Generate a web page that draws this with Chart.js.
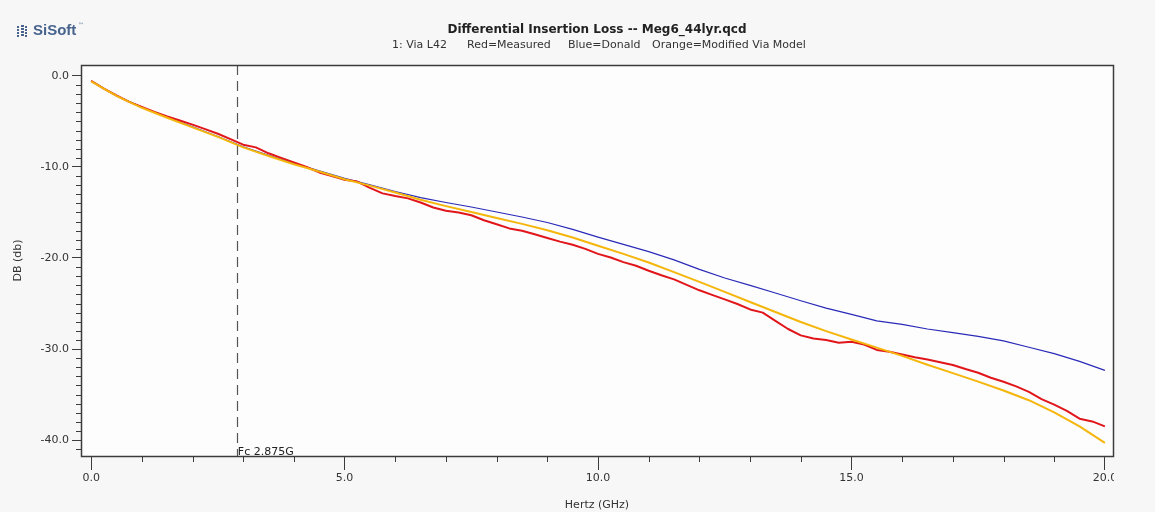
<!DOCTYPE html>
<html>
<head>
<meta charset="utf-8">
<title>Differential Insertion Loss -- Meg6_44lyr.qcd</title>
<script src="https://cdn.jsdelivr.net/npm/chart.js@4.4.0/dist/chart.umd.min.js"></script>
<style>
  html, body { margin: 0; padding: 0; background: #f7f7f7; }
  canvas { display: block; }
</style>
</head>
<body>
<canvas id="lossChart" width="1155" height="512"></canvas>
<script>
// Measured trace, sampled every 0.25 GHz
const measuredGHz = [
  0.00, 0.25, 0.50, 0.75, 1.00, 1.25, 1.50, 1.75, 2.00, 2.25, 2.50, 2.75, 3.00, 3.25, 3.50, 3.75,
  4.00, 4.25, 4.50, 4.75, 5.00, 5.25, 5.50, 5.75, 6.00, 6.25, 6.50, 6.75, 7.00, 7.25, 7.50, 7.75,
  8.00, 8.25, 8.50, 8.75, 9.00, 9.25, 9.50, 9.75, 10.00, 10.25, 10.50, 10.75, 11.00, 11.25, 11.50, 11.75,
  12.00, 12.25, 12.50, 12.75, 13.00, 13.25, 13.50, 13.75, 14.00, 14.25, 14.50, 14.75, 15.00, 15.25, 15.50, 15.75,
  16.00, 16.25, 16.50, 16.75, 17.00, 17.25, 17.50, 17.75, 18.00, 18.25, 18.50, 18.75, 19.00, 19.25, 19.50, 19.75,
  20.00
];
const measuredDb = [
  -0.55, -1.40, -2.15, -2.85, -3.40, -3.95, -4.45, -4.90, -5.35, -5.85, -6.35, -6.95, -7.55, -7.85, -8.50, -9.00,
  -9.50, -10.00, -10.60, -11.00, -11.40, -11.60, -12.30, -12.90, -13.20, -13.45, -13.90, -14.45, -14.80, -15.00, -15.30, -15.85,
  -16.30, -16.75, -17.00, -17.40, -17.80, -18.20, -18.55, -19.00, -19.55, -19.95, -20.45, -20.85, -21.40, -21.90, -22.35, -22.95,
  -23.55, -24.05, -24.55, -25.05, -25.65, -26.00, -26.90, -27.80, -28.50, -28.85, -29.00, -29.30, -29.20, -29.50, -30.10, -30.30,
  -30.60, -30.90, -31.15, -31.45, -31.75, -32.20, -32.60, -33.15, -33.60, -34.10, -34.70, -35.50, -36.10, -36.80, -37.65, -37.95,
  -38.50
];

// Simulated traces, sampled every 0.5 GHz
const modelGHz = [
  0.0, 0.5, 1.0, 1.5, 2.0, 2.5, 3.0, 3.5, 4.0, 4.5, 5.0, 5.5, 6.0, 6.5, 7.0, 7.5, 8.0, 8.5, 9.0, 9.5, 10.0,
  10.5, 11.0, 11.5, 12.0, 12.5, 13.0, 13.5, 14.0, 14.5, 15.0, 15.5, 16.0, 16.5, 17.0, 17.5, 18.0, 18.5, 19.0, 19.5, 20.0
];
const donaldDb = [
  -0.55, -2.15, -3.45, -4.55, -5.60, -6.65, -7.78, -8.72, -9.60, -10.42, -11.25, -11.95, -12.70, -13.37, -13.90, -14.40, -14.95, -15.50, -16.10, -16.85, -17.70,
  -18.50, -19.30, -20.20, -21.25, -22.20, -23.00, -23.85, -24.70, -25.50, -26.20, -26.90, -27.30, -27.80, -28.20, -28.60, -29.10, -29.80, -30.50, -31.35, -32.35
];
const modifiedViaDb = [
  -0.60, -2.20, -3.50, -4.60, -5.65, -6.70, -7.85, -8.80, -9.70, -10.50, -11.35, -12.05, -12.80, -13.60, -14.30, -14.95, -15.60, -16.25, -16.95, -17.75, -18.65,
  -19.55, -20.50, -21.55, -22.62, -23.72, -24.83, -25.93, -27.03, -28.03, -28.95, -29.85, -30.75, -31.72, -32.65, -33.58, -34.55, -35.62, -36.95, -38.50, -40.30
];

// axes
const xMajorTicks = [0, 5, 10, 15, 20];
const yMajorTicks = [0, -10, -20, -30, -40];
const xMinorStep = 1;
const yMinorStep = 1;
const cornerFreqGHz = 2.875;

const FONT = '"DejaVu Sans", Verdana, sans-serif';
const INK = '#3c3c3c';

function toPoints(xs, ys) {
  return xs.map((x, i) => ({ x: x, y: ys[i] }));
}

const decor = {
  id: 'decor',
  beforeDraw(chart) {
    const { ctx, chartArea: a } = chart;
    ctx.save();
    ctx.fillStyle = '#f7f7f7';
    ctx.fillRect(0, 0, chart.width, chart.height);
    ctx.fillStyle = '#fdfdfd';
    ctx.fillRect(a.left, a.top, a.right - a.left, a.bottom - a.top);
    ctx.restore();
    // scale labels are cut off at the right edge of the frame
    ctx.save();
    ctx.beginPath();
    ctx.rect(0, 0, a.right + 1, chart.height);
    ctx.clip();
  },
  beforeDatasetsDraw(chart) {
    const { ctx, chartArea: a, scales } = chart;
    ctx.restore();
    // Fc marker
    const fx = Math.round(scales.x.getPixelForValue(cornerFreqGHz)) + 0.5;
    ctx.save();
    ctx.strokeStyle = '#555';
    ctx.lineWidth = 1.2;
    ctx.setLineDash([10, 6]);
    ctx.beginPath();
    ctx.moveTo(fx, a.top);
    ctx.lineTo(fx, a.bottom);
    ctx.stroke();
    ctx.restore();
  },
  afterDatasetsDraw(chart) {
    const { ctx, chartArea: a, scales } = chart;
    ctx.save();
    ctx.strokeStyle = INK;
    ctx.lineWidth = 1;
    ctx.beginPath();
    for (let v = 0; v <= scales.x.max; v += xMinorStep) {
      if (xMajorTicks.includes(v)) continue;
      const px = Math.round(scales.x.getPixelForValue(v)) + 0.5;
      ctx.moveTo(px, a.bottom);
      ctx.lineTo(px, a.bottom + 6);
    }
    for (let v = 0; v >= scales.y.min; v -= yMinorStep) {
      if (yMajorTicks.includes(v)) continue;
      const py = Math.round(scales.y.getPixelForValue(v)) + 0.5;
      ctx.moveTo(a.left - 5, py);
      ctx.lineTo(a.left, py);
    }
    ctx.stroke();
    // plot frame
    ctx.lineWidth = 1.5;
    ctx.strokeRect(a.left + 0.5, a.top + 0.5, a.right - a.left, a.bottom - a.top);
    ctx.restore();
  },
  afterDraw(chart) {
    const { ctx, chartArea: a, scales } = chart;
    const cx = (a.left + a.right) / 2;
    ctx.save();
    ctx.textBaseline = 'middle';

    // title block
    ctx.fillStyle = '#222';
    ctx.textAlign = 'center';
    ctx.font = 'bold 12px ' + FONT;
    ctx.fillText('Differential Insertion Loss -- Meg6_44lyr.qcd', cx, 30);
    ctx.font = '11px ' + FONT;
    ctx.textAlign = 'left';
    ctx.fillStyle = '#333';
    ctx.fillText('1: Via L42', 392, 45);
    ctx.fillText('Red=Measured', 467, 45);
    ctx.fillText('Blue=Donald', 568, 45);
    ctx.fillText('Orange=Modified Via Model', 652, 45);

    // axis titles
    ctx.textAlign = 'center';
    ctx.fillText('Hertz (GHz)', cx, 505);
    ctx.save();
    ctx.translate(18, (a.top + a.bottom) / 2);
    ctx.rotate(-Math.PI / 2);
    ctx.fillText('DB (db)', 0, 0);
    ctx.restore();

    // Fc label sitting on the x axis
    const fx = scales.x.getPixelForValue(cornerFreqGHz);
    ctx.textAlign = 'left';
    ctx.textBaseline = 'alphabetic';
    ctx.fillStyle = '#222';
    ctx.fillText('Fc ' + cornerFreqGHz + 'G', fx + 1, a.bottom - 1);

    // SiSoft logo
    ctx.fillStyle = '#48648e';
    for (let c = 0; c < 3; c++) {
      for (let r = 0; r < 4; r++) {
        const w = (c === 1) ? 3 : 2;
        ctx.fillRect(17 + c * 4, 25 + r * 3 + (c === 1 ? 0 : 1), w, 2);
      }
    }
    ctx.font = 'bold 15px "Liberation Sans", Arial, sans-serif';
    ctx.textBaseline = 'middle';
    ctx.fillText('SiSoft', 33, 31);
    ctx.font = '6px ' + FONT;
    ctx.fillText('\u2122', 78, 25);
    ctx.restore();
  }
};

const ctx = document.getElementById('lossChart').getContext('2d');
const lossChart = new Chart(ctx, {
  type: 'line',
  data: {
    datasets: [
      {
        label: 'Modified Via Model',
        data: toPoints(modelGHz, modifiedViaDb),
        borderColor: '#f5b60c',
        borderWidth: 2,
        order: 0
      },
      {
        label: 'Measured',
        data: toPoints(measuredGHz, measuredDb),
        borderColor: '#e1161b',
        borderWidth: 2,
        order: 1
      },
      {
        label: 'Donald',
        data: toPoints(modelGHz, donaldDb),
        borderColor: '#2a2ab8',
        borderWidth: 1.2,
        order: 2
      }
    ]
  },
  options: {
    responsive: false,
    animation: false,
    devicePixelRatio: 1,
    events: [],
    layout: { padding: { left: 0, top: 65, right: 42, bottom: 0 } },
    elements: {
      point: { radius: 0 },
      line: { tension: 0, borderJoinStyle: 'round', fill: false }
    },
    plugins: {
      legend: { display: false },
      tooltip: { enabled: false }
    },
    scales: {
      x: {
        type: 'linear',
        min: -0.2,
        max: 20.16,
        afterBuildTicks: s => { s.ticks = xMajorTicks.map(v => ({ value: v })); },
        afterFit: s => { s.height = 56; },
        border: { display: false },
        grid: { drawOnChartArea: false, drawTicks: true, tickLength: 14, tickColor: INK, tickWidth: 1 },
        ticks: {
          padding: 2,
          color: '#333',
          maxRotation: 0,
          autoSkip: false,
          font: { family: FONT, size: 11 },
          callback: v => Number(v).toFixed(1)
        }
      },
      y: {
        type: 'linear',
        min: -41.75,
        max: 1.2,
        afterBuildTicks: s => { s.ticks = yMajorTicks.map(v => ({ value: v })); },
        afterFit: s => { s.width = 81; },
        border: { display: false },
        grid: { drawOnChartArea: false, drawTicks: true, tickLength: 9, tickColor: INK, tickWidth: 1 },
        ticks: {
          padding: 3,
          color: '#333',
          autoSkip: false,
          font: { family: FONT, size: 11 },
          callback: v => Number(v).toFixed(1)
        }
      }
    }
  },
  plugins: [decor]
});
</script>
</body>
</html>
